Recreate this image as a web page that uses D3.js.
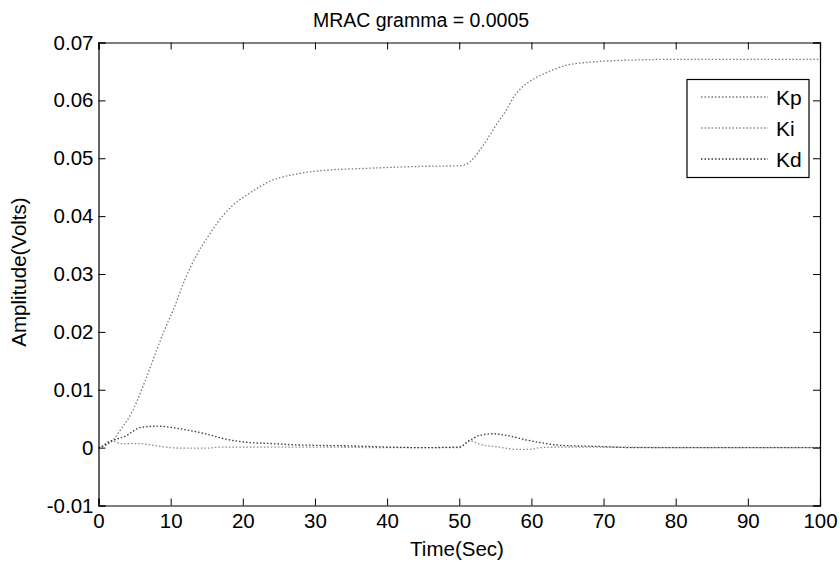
<!DOCTYPE html>
<html><head><meta charset="utf-8">
<script src="https://cdn.jsdelivr.net/npm/d3@7"></script>
<style>body{margin:0;background:#fff}svg{display:block}text{font-family:"Liberation Sans",Arial,sans-serif;fill:#000}</style>
</head><body>
<svg id="c" width="840" height="563"></svg>
<script>
const title = "MRAC gramma = 0.0005";
const xLabel = "Time(Sec)";
const yLabel = "Amplitude(Volts)";
const xTicks = [0,10,20,30,40,50,60,70,80,90,100];
const yTicks = [-0.01,0,0.01,0.02,0.03,0.04,0.05,0.06,0.07];
const seriesNames = ["Kp","Ki","Kd"];

const kpTime = [0,1,2,3,4.5,6.3,8.2,9.1,10.5,11.9,13.7,15.1,16.5,18.3,21.1,23.9,27.6,32.2,36,40,45,50,51,51.9,53.3,54.2,55.2,56.6,57.5,58.5,60.3,62.1,64.9,67.2,70.4,75,80,90,100];
const kpValues = [0,0.0004,0.0013,0.003,0.0058,0.011,0.0173,0.0202,0.0242,0.0288,0.0335,0.0363,0.0389,0.0415,0.0441,0.0461,0.0473,0.048,0.0482,0.0484,0.0486,0.0487,0.049,0.0499,0.0522,0.0539,0.0559,0.0585,0.0605,0.062,0.0637,0.0648,0.0661,0.0665,0.0668,0.067,0.0671,0.0671,0.0671];

const kiTime = [0,0.4,1.8,3.1,5.5,8.2,10,11.9,15.2,16.5,20,30,40,50,51.4,52.8,55.5,57.9,59.8,61.2,65,70,80,100];
const kiValues = [0,0.0002,0.0012,0.0007,0.0007,0.0003,0,-0.0001,-0.0001,0.0001,0.0001,0.0001,0,0,0.0012,0.0006,0.0001,-0.0003,-0.0003,0,0.0001,0.0001,0,0];

const kdTime = [0,0.5,1.7,3.6,5.9,8.2,11,13.7,15.1,17.9,20.7,24,26.9,30,35,40,45,50,51.4,52.8,54.7,56.6,59.4,62.1,64,69.5,74,80,90,100];
const kdValues = [0,0.0002,0.0011,0.0019,0.0035,0.0037,0.0033,0.0027,0.0023,0.0014,0.0009,0.0007,0.0005,0.0004,0.0003,0.0001,0,0.0001,0.0012,0.0021,0.0024,0.0021,0.0013,0.0007,0.0004,0.0002,0,0,0,0];

const svg = d3.select("#c");
const L = 98.5, R = 820, T = 42.5, B = 505.5;
const x = d3.scaleLinear().domain([0,100]).range([L,R]);
const y = d3.scaleLinear().domain([-0.01,0.07]).range([B,T]);

const series = [
  {name:seriesNames[0], t:kpTime, v:kpValues, color:"#7a7a7a"},
  {name:seriesNames[1], t:kiTime, v:kiValues, color:"#8a8a8a"},
  {name:seriesNames[2], t:kdTime, v:kdValues, color:"#3a3a3a"}
];

const line = d3.line().x(d=>x(d[0])).y(d=>y(d[1])).curve(d3.curveMonotoneX);
const g = svg.append("g");
g.append("clipPath").attr("id","clip").append("rect").attr("x",L).attr("y",T).attr("width",R-L).attr("height",B-T);
series.forEach(s=>{
  g.append("path").attr("clip-path","url(#clip)")
   .datum(s.t.map((t,i)=>[t,s.v[i]]))
   .attr("d",line).attr("fill","none").attr("stroke",s.color)
   .attr("stroke-width",1.3).attr("stroke-dasharray","1.5,2");
});

// axes
const fmtY = d=> d===0 ? "0" : d3.format(".2f")(d).replace("−","-");
const ax = svg.append("g").attr("transform",`translate(0,${B})`)
  .call(d3.axisBottom(x).tickValues(xTicks).tickSize(-7).tickPadding(8).tickFormat(d3.format("d")));
const axT = svg.append("g").attr("transform",`translate(0,${T})`)
  .call(d3.axisTop(x).tickValues(xTicks).tickSize(-7).tickFormat(""));
const ay = svg.append("g").attr("transform",`translate(${L},0)`)
  .call(d3.axisLeft(y).tickValues(yTicks).tickSize(-7).tickPadding(5).tickFormat(fmtY));
const ayR = svg.append("g").attr("transform",`translate(${R},0)`)
  .call(d3.axisRight(y).tickValues(yTicks).tickSize(-7).tickFormat(""));
[ax,axT,ay,ayR].forEach(a=>{
  a.selectAll("path.domain").attr("stroke","#000").attr("stroke-width",1.2);
  a.selectAll(".tick line").attr("stroke","#000");
  a.selectAll("text").style("font-size","20.5px").attr("fill","#000").style("font-family","'Liberation Sans',Arial,sans-serif");
});
ax.selectAll("text").attr("dy","0.71em");

svg.append("text").attr("x",421).attr("y",27).attr("text-anchor","middle").style("font-size","19.5px").text(title);
svg.append("text").attr("x",457).attr("y",556).attr("text-anchor","middle").style("font-size","20.5px").text(xLabel);
svg.append("text").attr("transform","translate(26,272) rotate(-90)").attr("text-anchor","middle").style("font-size","20.5px").text(yLabel);

// legend
const lg = svg.append("g");
lg.append("rect").attr("x",687).attr("y",79.5).attr("width",122).attr("height",98).attr("fill","#fff").attr("stroke","#000").attr("stroke-width",1.2);
const rowY = [97,128,159];
series.forEach((s,i)=>{
  lg.append("line").attr("x1",701).attr("x2",768).attr("y1",rowY[i]).attr("y2",rowY[i])
    .attr("stroke",s.color).attr("stroke-width",1.3).attr("stroke-dasharray","1.5,2");
  lg.append("text").attr("x",776).attr("y",rowY[i]).attr("dy","0.36em").style("font-size","21px").text(s.name);
});
</script>
</body></html>
